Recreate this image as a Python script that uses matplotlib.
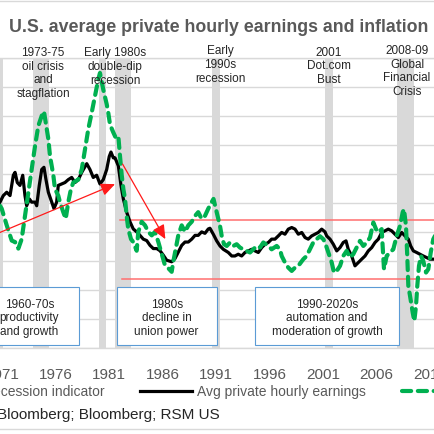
import matplotlib.pyplot as plt
import matplotlib.transforms as mtransforms
from matplotlib.patches import Rectangle
from matplotlib.lines import Line2D

plt.rcParams['font.family'] = ['Liberation Sans', 'DejaVu Sans']

# === DATA ===
cpi_years = [1970.75, 1970.91, 1971.38, 1971.85, 1972.16, 1972.47, 1972.78, 1973.09, 1973.40,
             1973.72, 1974.03, 1974.34, 1974.66, 1974.87, 1975.28, 1975.44, 1975.75, 1975.90,
             1976.21, 1976.37, 1976.68, 1976.91, 1977.15, 1977.40, 1977.62, 1978.09, 1978.41,
             1978.72, 1979.03, 1979.34, 1979.65, 1979.96, 1980.12, 1980.43, 1980.75, 1980.90,
             1981.06, 1981.37, 1981.59, 1981.84, 1982.00, 1982.16, 1982.31, 1982.47, 1982.62,
             1982.77, 1983.03, 1983.24, 1983.56, 1983.71, 1984.03, 1984.34, 1984.65, 1984.97,
             1985.28, 1985.59, 1985.90, 1986.21, 1986.52, 1986.84, 1986.99, 1987.22, 1987.46,
             1987.78, 1988.09, 1988.40, 1988.72, 1989.03, 1989.33, 1989.65, 1989.96, 1990.27,
             1990.59, 1990.76, 1991.06, 1991.37, 1991.53, 1991.74, 1992.00, 1992.31, 1992.62,
             1992.93, 1993.24, 1993.55, 1993.87, 1994.18, 1994.49, 1994.81, 1995.12, 1995.43,
             1995.90, 1996.21, 1996.68, 1996.99, 1997.15, 1997.46, 1997.77, 1998.09, 1998.40,
             1998.71, 1999.18, 1999.49, 1999.80, 2000.11, 2000.43, 2000.74, 2001.05, 2001.21,
             2001.52, 2001.84, 2002.05, 2002.31, 2002.62, 2002.92, 2003.24, 2003.55, 2003.86,
             2004.18, 2004.49, 2004.80, 2005.12, 2005.43, 2005.74, 2005.99, 2006.21, 2006.52,
             2006.74, 2006.99, 2007.30, 2007.61, 2007.93, 2008.24, 2008.49, 2008.61, 2008.80,
             2008.92, 2009.02, 2009.18, 2009.43, 2009.58, 2009.74, 2009.86, 2010.02, 2010.21,
             2010.42, 2010.68, 2010.89, 2011.12, 2011.36, 2011.60]
cpi_values = [5.8, 5.6, 4.45, 3.4, 3.3, 2.85, 3.5, 5.1, 6.75,
              8.3, 9.9, 11.3, 12.0, 12.3, 10.4, 9.2, 7.9, 6.96,
              6.5, 6.05, 5.36, 4.9, 6.05, 6.96, 7.4, 7.6, 8.3,
              9.7, 11.1, 12.2, 13.35, 14.5, 14.95, 13.8, 12.8, 12.2,
              11.4, 10.85, 10.5, 10.6, 9.2, 7.9, 6.96, 6.27, 5.1,
              4.2, 3.5, 3.3, 2.7, 4.0, 4.7, 4.45, 4.0, 3.76,
              4.0, 3.3, 2.5, 1.7, 1.5, 1.25, 1.94, 2.85, 3.76,
              4.45, 4.0, 4.45, 4.7, 5.1, 5.36, 4.9, 5.1, 5.6,
              6.05, 6.27, 5.34, 4.41, 3.72, 3.15, 3.03, 3.27, 3.03,
              3.15, 2.92, 2.8, 2.69, 2.58, 2.8, 3.03, 2.92, 3.27,
              3.03, 2.8, 3.03, 2.8, 2.34, 1.89, 1.54, 1.31, 1.54,
              1.66, 2.12, 2.34, 2.8, 3.27, 3.5, 3.7, 3.5, 3.27,
              2.58, 1.89, 1.2, 1.31, 1.66, 2.34, 2.69, 2.23, 2.46,
              2.92, 3.38, 3.03, 3.27, 3.61, 4.65, 4.19, 3.96, 4.19,
              1.43, 2.34, 2.58, 2.8, 3.72, 4.41, 5.34, 5.57, 4.41,
              2.34, 0.28, -0.41, -1.56, -2.14, -1.1, 0.28, 1.66, 2.34,
              2.0, 1.2, 1.43, 2.58, 3.5, 3.84]

wage_years = [1970.75, 1971.06, 1971.38, 1971.69, 1972.00, 1972.16, 1972.37, 1972.62, 1972.88,
              1973.09, 1973.25, 1973.50, 1973.72, 1974.03, 1974.19, 1974.43, 1974.66, 1974.87,
              1975.06, 1975.28, 1975.60, 1975.81, 1976.06, 1976.21, 1976.53, 1976.84, 1977.15,
              1977.47, 1977.78, 1978.09, 1978.41, 1978.88, 1979.18, 1979.49, 1979.81, 1980.12,
              1980.43, 1980.75, 1980.99, 1981.15, 1981.37, 1981.53, 1981.84, 1982.09, 1982.31,
              1982.62, 1982.93, 1983.24, 1983.56, 1983.87, 1984.18, 1984.50, 1984.81, 1985.12,
              1985.44, 1985.75, 1986.05, 1986.37, 1986.84, 1987.15, 1987.46, 1987.78, 1988.09,
              1988.40, 1988.72, 1989.03, 1989.33, 1989.65, 1989.96, 1990.27, 1990.43, 1990.74,
              1991.06, 1991.37, 1991.68, 1992.15, 1992.47, 1992.77, 1993.08, 1993.40, 1993.71,
              1994.02, 1994.34, 1994.65, 1994.96, 1995.28, 1995.59, 1995.90, 1996.21, 1996.52,
              1996.83, 1997.15, 1997.46, 1997.77, 1998.09, 1998.40, 1998.71, 1999.03, 1999.34,
              1999.64, 1999.96, 2000.27, 2000.58, 2000.90, 2001.21, 2001.37, 2001.68, 2001.99,
              2002.31, 2002.62, 2002.92, 2003.18, 2003.39, 2003.71, 2004.02, 2004.33, 2004.65,
              2004.96, 2005.27, 2005.59, 2005.90, 2006.21, 2006.52, 2006.83, 2007.14, 2007.46,
              2007.77, 2008.08, 2008.40, 2008.71, 2009.02, 2009.24, 2009.49, 2009.80, 2010.11,
              2010.42, 2010.74, 2011.05, 2011.60]
wage_values = [6.05, 6.5, 6.73, 6.5, 7.9, 8.1, 7.4, 7.2, 7.9,
               6.5, 5.8, 6.27, 6.05, 6.05, 5.8, 7.2, 8.3, 8.45,
               7.6, 6.73, 6.05, 5.6, 6.05, 7.2, 7.3, 7.4, 7.6,
               7.75, 7.4, 7.6, 8.1, 8.7, 8.3, 7.75, 7.9, 7.3,
               7.6, 8.3, 9.2, 9.5, 9.1, 9.1, 8.55, 7.2, 6.27,
               5.36, 4.7, 4.2, 4.0, 3.76, 3.5, 3.4, 3.07, 2.85,
               2.85, 2.7, 2.4, 2.05, 1.94, 2.16, 2.6, 3.07, 3.3,
               3.3, 3.5, 3.76, 3.76, 4.0, 3.9, 4.2, 4.25, 3.84,
               3.38, 3.03, 2.8, 2.58, 2.34, 2.34, 2.46, 2.34, 2.58,
               2.69, 2.8, 2.69, 2.58, 2.92, 3.15, 3.27, 3.5, 3.5,
               3.72, 3.96, 3.84, 4.19, 4.3, 4.19, 3.84, 3.96, 3.61,
               3.5, 3.72, 3.84, 3.96, 4.19, 4.0, 3.72, 3.5, 3.15,
               2.69, 2.92, 3.27, 3.38, 2.8, 2.34, 1.66, 1.89, 2.12,
               2.34, 2.69, 2.92, 3.27, 3.5, 3.96, 4.07, 4.19, 4.07,
               3.84, 3.61, 3.96, 3.72, 3.5, 3.03, 2.69, 2.58, 2.46,
               2.34, 2.23, 2.12, 2.12]

recessions = [(1969.9, 1971.0), (1973.85, 1975.3), (1980.0, 1980.65), (1981.5, 1983.0),
              (1990.6, 1991.35), (2001.2, 2001.95), (2007.95, 2009.55)]

tick_years = [1971, 1976, 1981, 1986, 1991, 1996, 2001, 2006, 2011]
tick_labels = ['1971', '1976', '1981', '1986', '1991', '1996', '2001', '2006', '2011']

event_labels = ['1973-75\noil crisis\nand\nstagflation', 'Early 1980s\ndouble-dip\nrecession',
                'Early\n1990s\nrecession', '2001\nDot.com\nBust', '2008-09\nGlobal\nFinancial\nCrisis']
event_years = [1974.78, 1981.53, 1991.37, 2001.58, 2008.9]

era_labels = ['1960-70s\nproductivity\nand growth', '1980s\ndecline in\nunion power',
              '1990-2020s\nautomation and\nmoderation of growth']
era_spans = [(1968.97, 1978.15), (1981.74, 1991.06), (1994.68, 2008.12)]
era_text_x = [1973.5, 1986.37, 2001.4]

band_levels = [4.83, 0.76]
band_start = [1982.0, 1982.2]

# === FIGURE ===
W = H = 435.0
fig = plt.figure(figsize=(4.35, 4.35), dpi=100)
ax = fig.add_axes([0, (H - 349) / H, 1, (349 - 58.7) / H])
ax.set_xlim(1970.75, 2011.52)
ax.set_ylim(-4, 16)

def fy(y):
    return 1 - y / H

grey_txt = '#595959'
dark_txt = '#262626'

# recession shading
for s, e in recessions:
    ax.axvspan(s, e, color='#d9d9d9', lw=0, zorder=0)

ax.set_yticks(range(-4, 17, 2))
ax.yaxis.grid(True, color='#d9d9d9', lw=1, zorder=0.5)
ax.set_axisbelow(True)
for side in ['left', 'right']:
    ax.spines[side].set_visible(False)
for side in ['top', 'bottom']:
    ax.spines[side].set_color('#d9d9d9')
    ax.spines[side].set_linewidth(1)
ax.tick_params(left=False, labelleft=False, bottom=False, pad=10.5)
ax.set_xticks(tick_years)
ax.set_xticklabels(tick_labels, fontsize=11, color=grey_txt)
ax.patch.set_alpha(0)

# series
ax.plot(wage_years, wage_values, color='black', lw=2.3, zorder=3, solid_joinstyle='round')
ax.plot(cpi_years, cpi_values, color='#00b050', lw=3.0, zorder=4,
        dashes=(2.2, 1.6), dash_capstyle='round')

# red guide lines and arrows
for start, level in zip(band_start, band_levels):
    ax.plot([start, 2012.5], [level, level], color='#ff6f6f', lw=1.1, zorder=2, clip_on=False)
arrow_kw = dict(arrowstyle='-|>,head_length=0.85,head_width=0.38', color='#ff1a1a', lw=0.9,
                shrinkA=0, shrinkB=0, mutation_scale=10)
ax.annotate('', xy=(1981.53, 7.29), xytext=(1970.0, 3.73), arrowprops=arrow_kw, zorder=5)
ax.annotate('', xy=(1986.25, 3.5), xytext=(1982.24, 8.67), arrowprops=arrow_kw, zorder=5)

# era boxes
for (x0, x1), lab, tx in zip(era_spans, era_labels, era_text_x):
    ax.add_patch(Rectangle((x0, -3.81), x1 - x0, 3.98, facecolor='white',
                           edgecolor='#5b9bd5', lw=0.8, zorder=2.5, clip_on=False))
    ax.text(tx, -1.88, lab, ha='center', va='center', fontsize=8.5, color=dark_txt,
            linespacing=1.15, zorder=2.6)

# event labels above the plot
trans = mtransforms.blended_transform_factory(ax.transData, fig.transFigure)
event_y = [73.5, 67, 65, 66.3, 71.3]
for x, lab, y in zip(event_years, event_labels, event_y):
    ax.text(x, fy(y), lab, transform=trans, ha='center', va='center', fontsize=8.5,
            color=dark_txt, linespacing=1.17, clip_on=False, zorder=6)

# title
fig.text(219 / W, fy(28), 'U.S. average private hourly earnings and inflation', ha='center',
         va='center', fontsize=12.8, fontweight='bold', color=grey_txt)

# legend (drawn by hand, partly cut off like the reference)
fig.text(105 / W, fy(392), 'Recession indicator', ha='right', va='center', fontsize=10,
         color=grey_txt)
fig.add_artist(Line2D([140 / W, 192 / W], [fy(392), fy(392)], color='black', lw=2.3))
fig.text(197 / W, fy(392), 'Avg private hourly earnings', ha='left', va='center', fontsize=10,
         color=grey_txt)
fig.add_artist(Line2D([402 / W, 460 / W], [fy(392), fy(392)], color='#00b050', lw=3.0,
                      dashes=(2.2, 1.6), dash_capstyle='round'))

# source
fig.text(-3 / W, fy(415), 'Bloomberg; Bloomberg; RSM US', ha='left', va='center', fontsize=11,
         color=dark_txt)

# outer frame lines
fig.add_artist(Line2D([0, 1], [fy(1.7), fy(1.7)], color='#d9d9d9', lw=1))
fig.add_artist(Line2D([0, 1], [fy(430), fy(430)], color='#d9d9d9', lw=1))

fig.savefig('out.png', dpi=100)
